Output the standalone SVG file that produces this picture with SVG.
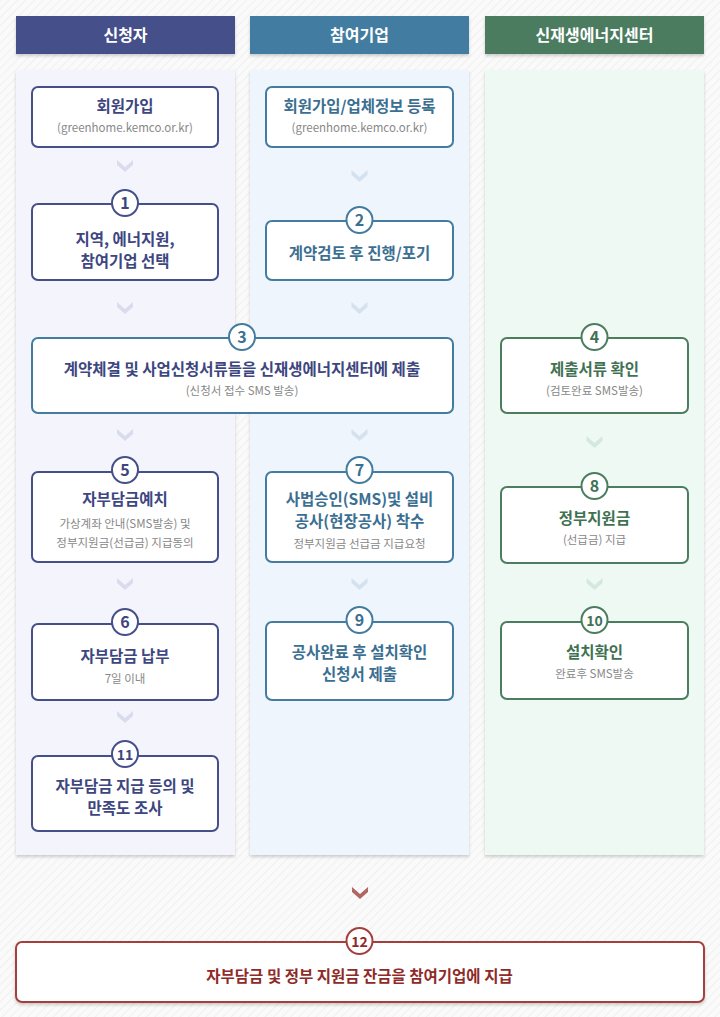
<svg xmlns="http://www.w3.org/2000/svg" width="720" height="1017" viewBox="0 0 720 1017">
<defs>
<pattern id="bg" width="6" height="6" patternUnits="userSpaceOnUse" patternTransform="rotate(45)">
<rect width="6" height="6" fill="#fafafa"/><line x1="0" y1="0" x2="0" y2="6" stroke="#f0f0f0" stroke-width="2"/>
</pattern>
<filter id="sh" x="-5%" y="-5%" width="110%" height="120%"><feDropShadow dx="0" dy="2" stdDeviation="1.5" flood-color="#000" flood-opacity="0.18"/></filter>
<path id="chev" d="M-8,-5 L0,2 L8,-5 L8,0 L0,7 L-8,0 Z"/>
</defs>
<style>
text{font-family:"Noto Sans CJK KR","Noto Sans",sans-serif;text-anchor:middle}
.hd{fill:#fff;font-size:16px;font-weight:bold}
.t{font-size:15.5px;font-weight:bold}
.s{font-size:11.5px;fill:#888}
.n{font-size:16px;font-weight:bold}
.box{fill:#fff;stroke-width:2}
.c1 .box,.c1 circle{stroke:#454f89}.c1 .t,.c1 .n{fill:#3d4680}
.c2 .box,.c2 circle{stroke:#437c9f}.c2 .t,.c2 .n{fill:#3b6f91}
.c3 .box,.c3 circle{stroke:#4c7d5e}.c3 .t,.c3 .n{fill:#3f7253}
.c4 .box,.c4 circle{stroke:#a3403e}.c4 .t,.c4 .n{fill:#8e2a28}
circle{fill:#fff;stroke-width:2}
</style>
<rect width="720" height="1017" fill="url(#bg)"/>
<rect x="16" y="70" width="219" height="785" fill="#f4f5fc" filter="url(#sh)"/>
<rect x="250" y="70" width="219" height="785" fill="#eef5fc" filter="url(#sh)"/>
<rect x="485" y="70" width="219" height="785" fill="#eff9f3" filter="url(#sh)"/>
<g id="headers">
<rect x="16" y="16" width="219" height="38" fill="#45508a" filter="url(#sh)"/><text class="hd" x="125.5" y="41">신청자</text>
<rect x="250" y="16" width="219" height="38" fill="#427ba0" filter="url(#sh)"/><text class="hd" x="359.5" y="41">참여기업</text>
<rect x="485" y="16" width="219" height="38" fill="#4b7c5e" filter="url(#sh)"/><text class="hd" x="594.5" y="41">신재생에너지센터</text>
</g>
<g id="connectors">
<g fill="#d8dcec"><use href="#chev" x="125" y="165"/><use href="#chev" x="125" y="307"/><use href="#chev" x="125" y="434"/><use href="#chev" x="125" y="583"/><use href="#chev" x="125" y="716"/></g>
<g fill="#d3e2ee"><use href="#chev" x="359.5" y="175"/><use href="#chev" x="359.5" y="307"/><use href="#chev" x="359.5" y="434"/><use href="#chev" x="359.5" y="583"/></g>
<g fill="#d5e8dc"><use href="#chev" x="594.5" y="441"/><use href="#chev" x="594.5" y="583"/></g>
<use href="#chev" x="360" y="892" fill="#b06664"/>
</g>
<g id="n0" class="c1"><rect class="box" x="32" y="87" width="186" height="60" rx="6"/><text class="t" x="125" y="112">회원가입</text><text class="s" x="125" y="132">(greenhome.kemco.or.kr)</text></g>
<g id="n1" class="c1"><rect class="box" x="32" y="204" width="186" height="76" rx="6"/><circle cx="125" cy="203" r="13"/><text class="n" x="125" y="209">1</text><text class="t" x="125" y="245">지역, 에너지원,</text><text class="t" x="125" y="267">참여기업 선택</text></g>
<g id="n3" class="c2"><rect class="box" x="32" y="338" width="421" height="75" rx="6"/><circle cx="242" cy="337" r="13"/><text class="n" x="242" y="343">3</text><text class="t" x="242" y="375" style="fill:#3d4680">계약체결 및 사업신청서류들을 신재생에너지센터에 제출</text><text class="s" x="242" y="395">(신청서 접수 SMS 발송)</text></g>
<g id="n5" class="c1"><rect class="box" x="32" y="472" width="186" height="90" rx="6"/><circle cx="125" cy="470" r="13"/><text class="n" x="125" y="476">5</text><text class="t" x="125" y="505">자부담금예치</text><text class="s" x="125" y="528">가상계좌 안내(SMS발송) 및</text><text class="s" x="125" y="547">정부지원금(선급금) 지급동의</text></g>
<g id="n6" class="c1"><rect class="box" x="32" y="624" width="186" height="76" rx="6"/><circle cx="125" cy="622" r="13"/><text class="n" x="125" y="628">6</text><text class="t" x="125" y="662">자부담금 납부</text><text class="s" x="125" y="683">7일 이내</text></g>
<g id="n11" class="c1"><rect class="box" x="32" y="756" width="186" height="75" rx="6"/><circle cx="125" cy="754" r="13"/><text class="n" x="125" y="760" style="font-size:14px">11</text><text class="t" x="125" y="792">자부담금 지급 등의 및</text><text class="t" x="125" y="814">만족도 조사</text></g>
<g id="n0b" class="c2"><rect class="box" x="266" y="87" width="187" height="60" rx="6"/><text class="t" x="359.5" y="112">회원가입/업체정보 등록</text><text class="s" x="359.5" y="132">(greenhome.kemco.or.kr)</text></g>
<g id="n2" class="c2"><rect class="box" x="266" y="221" width="187" height="59" rx="6"/><circle cx="359.5" cy="220" r="13"/><text class="n" x="359.5" y="226">2</text><text class="t" x="359.5" y="259">계약검토 후 진행/포기</text></g>
<g id="n7" class="c2"><rect class="box" x="266" y="472" width="187" height="90" rx="6"/><circle cx="359.5" cy="470" r="13"/><text class="n" x="359.5" y="476">7</text><text class="t" x="359.5" y="505">사법승인(SMS)및 설비</text><text class="t" x="359.5" y="527">공사(현장공사) 착수</text><text class="s" x="359.5" y="548">정부지원금 선급금 지급요청</text></g>
<g id="n9" class="c2"><rect class="box" x="266" y="622" width="187" height="78" rx="6"/><circle cx="359.5" cy="620" r="13"/><text class="n" x="359.5" y="626">9</text><text class="t" x="359.5" y="658">공사완료 후 설치확인</text><text class="t" x="359.5" y="680">신청서 제출</text></g>
<g id="n4" class="c3"><rect class="box" x="501" y="338" width="187" height="75" rx="6"/><circle cx="594.5" cy="337" r="13"/><text class="n" x="594.5" y="343">4</text><text class="t" x="594.5" y="375">제출서류 확인</text><text class="s" x="594.5" y="395">(검토완료 SMS발송)</text></g>
<g id="n8" class="c3"><rect class="box" x="501" y="487" width="187" height="76" rx="6"/><circle cx="594.5" cy="486" r="13"/><text class="n" x="594.5" y="492">8</text><text class="t" x="594.5" y="524">정부지원금</text><text class="s" x="594.5" y="544">(선급금) 지급</text></g>
<g id="n10" class="c3"><rect class="box" x="501" y="622" width="187" height="77" rx="6"/><circle cx="594.5" cy="620" r="13"/><text class="n" x="594.5" y="626" style="font-size:14px">10</text><text class="t" x="594.5" y="658">설치확인</text><text class="s" x="594.5" y="678">완료후 SMS발송</text></g>
<g id="n12" class="c4"><rect class="box" x="16" y="942" width="688" height="60" rx="6" filter="url(#sh)"/><circle cx="359.5" cy="941" r="13"/><text class="n" x="359.5" y="947" style="font-size:14px">12</text><text class="t" x="359.5" y="982">자부담금 및 정부 지원금 잔금을 참여기업에 지급</text></g>
</svg>
